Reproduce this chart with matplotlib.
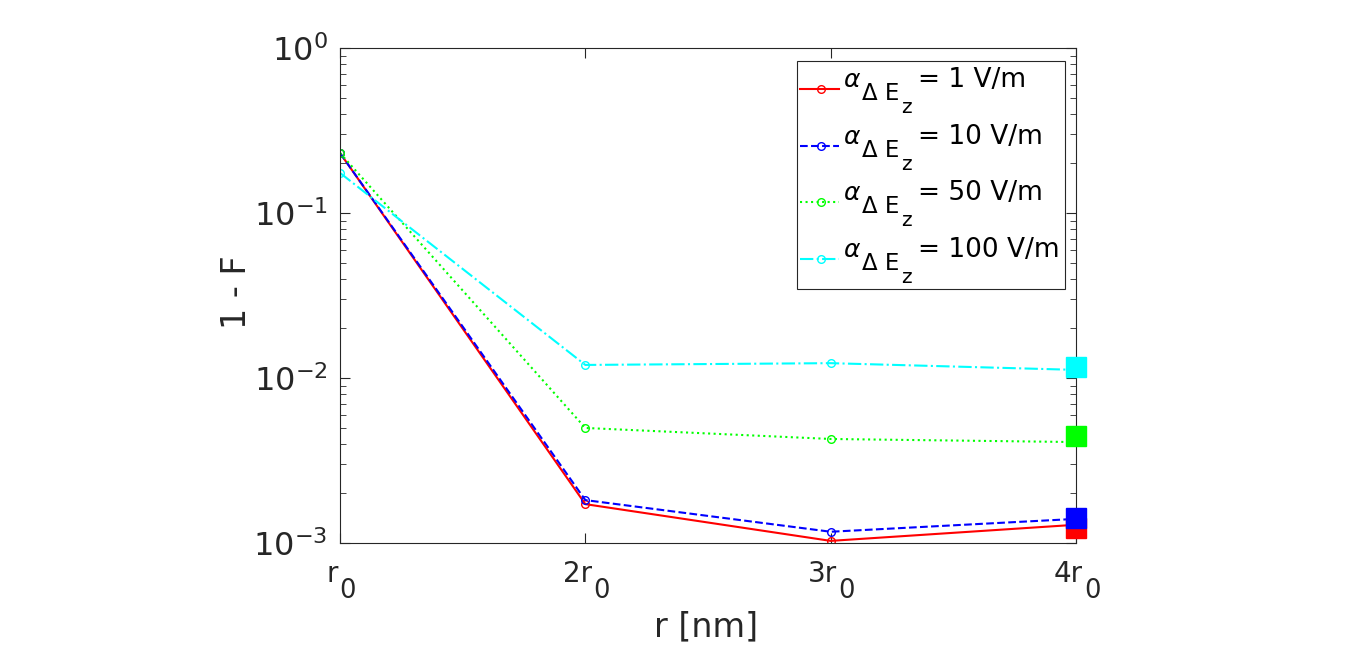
import numpy as np
import matplotlib
matplotlib.use("Agg")
import matplotlib.pyplot as plt
from matplotlib.lines import Line2D
from matplotlib.patches import Rectangle
from matplotlib.ticker import LogLocator, NullFormatter
from matplotlib.textpath import TextToPath
from matplotlib.font_manager import FontProperties

plt.rcParams['axes.unicode_minus'] = False
plt.rcParams['mathtext.fontset'] = 'dejavusans'

# data
r = [1, 2, 3, 4]
tick_main = ['r', '2r', '3r', '4r']
tick_sub = '0'
alphas = [1, 10, 50, 100]
y_1 = [0.231, 1.72e-3, 1.03e-3, 1.29e-3]
y_10 = [0.231, 1.82e-3, 1.17e-3, 1.40e-3]
y_50 = [0.231, 4.98e-3, 4.27e-3, 4.09e-3]
y_100 = [0.175, 1.20e-2, 1.23e-2, 1.12e-2]
# big squares at 4r0
sq_vals = [1.23e-3, 1.42e-3, 4.48e-3, 1.17e-2]

colors = ['#ff0000', '#0000ff', '#00ff00', '#00ffff']
styles = ['-', '--', ':', '-.']
series = [y_1, y_10, y_50, y_100]
tc = '#262626'

W, H = 1366, 650
fig = plt.figure(figsize=(W / 100, H / 100), dpi=100)
ax_l, ax_r, ax_t, ax_b = 340, 1076, 48, 543
ax = fig.add_axes([ax_l / W, 1 - ax_b / H, (ax_r - ax_l) / W, (ax_b - ax_t) / H])

def axf(px, py):
    # pixel (from top-left) -> axes fraction
    return (px - ax_l) / (ax_r - ax_l), (ax_b - py) / (ax_b - ax_t)

for ys, c, ls in zip(series, colors, styles):
    ax.plot(r, ys, color=c, linestyle=ls, linewidth=1.5, marker='o',
            markersize=5.5, markerfacecolor='none', markeredgewidth=1.0,
            markevery=[0, 1, 2])

for v, c in zip(sq_vals, colors):
    ax.plot(r[-1], v, marker='s', markersize=15, color=c, linestyle='none',
            clip_on=False, zorder=5)

ax.set_yscale('log')
ax.set_ylim(1e-3, 1)
ax.set_xlim(1, 4)
ax.set_xticks(r)
ax.set_xticklabels([])
ax.yaxis.set_major_locator(LogLocator(base=10, numticks=10))
ax.yaxis.set_minor_locator(LogLocator(base=10, subs=np.arange(2, 10), numticks=10))
ax.yaxis.set_minor_formatter(NullFormatter())

ax.tick_params(which='both', direction='in', top=True, right=True, colors=tc)
ax.tick_params(axis='y', labelsize=23, pad=9)
ax.tick_params(which='major', length=7, width=0.8)
ax.tick_params(which='minor', length=4, width=0.6)
for s in ax.spines.values():
    s.set_color(tc)
    s.set_linewidth(0.8)

# x tick labels: r with a full-size lowered 0
ttp = TextToPath()
fs_main, fs_sub = 20, 18.5
w_sub = ttp.get_text_width_height_descent(tick_sub, FontProperties(size=fs_sub), ismath=False)[0]
for xv, lab in zip(r, tick_main):
    w_main = ttp.get_text_width_height_descent(lab, FontProperties(size=fs_main), ismath=False)[0]
    x0 = -(w_main + w_sub) / 2
    ax.annotate(lab, xy=(xv, 0), xycoords=('data', 'axes fraction'),
                xytext=(x0, -28), textcoords='offset points',
                ha='left', va='baseline', fontsize=fs_main, color=tc,
                annotation_clip=False)
    ax.annotate(tick_sub, xy=(xv, 0), xycoords=('data', 'axes fraction'),
                xytext=(x0 + w_main + 1, -39.5), textcoords='offset points',
                ha='left', va='baseline', fontsize=fs_sub, color=tc,
                annotation_clip=False)

ax.set_xlabel('r [nm]', fontsize=24, color=tc)
ax.xaxis.set_label_coords(0.497, -0.137)
ax.set_ylabel('1 - F', fontsize=24, color=tc)
ax.yaxis.set_label_coords(-0.118, 0.507)

# legend drawn by hand (MATLAB-style tall subscripts)
bx0, by0 = axf(797, 289)
bx1, by1 = axf(1065, 61)
ax.add_patch(Rectangle((bx0, by0), bx1 - bx0, by1 - by0, transform=ax.transAxes,
                       facecolor='white', edgecolor=tc, linewidth=0.8,
                       zorder=10, clip_on=False))
pitch = 56.7
for i, (a, c, ls) in enumerate(zip(alphas, colors, styles)):
    yl = 89 + i * pitch
    p0 = axf(800, yl)
    p1 = axf(839, yl)
    pm = axf(821, yl)
    ax.add_line(Line2D([p0[0], p1[0]], [p0[1], p1[1]], transform=ax.transAxes,
                       color=c, linestyle=ls, linewidth=1.5, zorder=11,
                       clip_on=False))
    ax.add_line(Line2D([pm[0]], [pm[1]], transform=ax.transAxes, color=c,
                       marker='o', markersize=5.5, markerfacecolor='none',
                       markeredgewidth=1.0, zorder=11, clip_on=False))
    base = yl - 2
    for txt, px, dy, fs in [(r'$\alpha$', 843, 0, 18),
                            ('\u0394 E', 862, 13, 16.5),
                            ('z', 901, 26, 14.5),
                            ('= %d V/m' % a, 918, 0, 19)]:
        tx, ty = axf(px, base + dy)
        ax.text(tx, ty, txt, transform=ax.transAxes, fontsize=fs, color='black',
                ha='left', va='baseline', zorder=12, clip_on=False)

fig.savefig('out.png', dpi=100)
